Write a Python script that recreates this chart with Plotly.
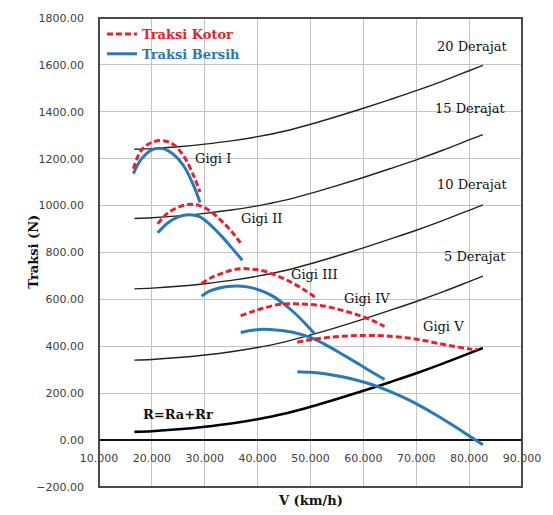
import plotly.graph_objects as go

# Speeds (km/h) and tractive-effort / resistance values (N)
v_lintasan = [16.7, 20, 25, 30, 35, 40, 45, 50, 55, 60, 65, 70, 75, 80, 82.6]
r_total = [35, 38, 46, 57, 71, 89, 112, 142, 175, 210, 247, 285, 326, 370, 393]
tanjakan_5 = [341, 344, 352, 363, 377, 395, 418, 448, 481, 516, 553, 591, 632, 676, 699]
tanjakan_10 = [645, 648, 656, 667, 681, 699, 722, 752, 785, 820, 857, 895, 936, 980, 1003]
tanjakan_15 = [945, 948, 956, 967, 981, 999, 1022, 1052, 1085, 1120, 1157, 1195, 1236, 1280, 1303]
tanjakan_20 = [1240, 1243, 1251, 1262, 1276, 1294, 1317, 1347, 1380, 1415, 1452, 1490, 1531, 1575, 1598]

v_gigi1 = [16.5, 18, 20, 22, 24, 26, 28, 29.1]
kotor_gigi1 = [1157, 1236, 1270, 1277, 1262, 1212, 1122, 1058]
bersih_gigi1 = [1136, 1198, 1238, 1243, 1220, 1170, 1080, 1013]

v_gigi2 = [21.1, 23, 25, 27, 29, 31, 33, 35, 37.1]
kotor_gigi2 = [922, 968, 993, 1005, 1000, 977, 938, 892, 830]
bersih_gigi2 = [884, 926, 952, 961, 953, 919, 874, 823, 767]

v_gigi3 = [29.4, 31, 33, 35, 37, 39, 41, 43, 45, 47, 49, 50.8]
kotor_gigi3 = [668, 690, 709, 724, 731, 729, 722, 707, 688, 665, 638, 610]
bersih_gigi3 = [614, 636, 650, 656, 656, 649, 634, 612, 580, 542, 497, 452]

v_gigi4 = [36.8, 39, 41, 44, 47, 50, 53, 56, 59, 62, 64]
kotor_gigi4 = [530, 548, 562, 578, 581, 578, 570, 553, 533, 507, 485]
bersih_gigi4 = [459, 468, 473, 468, 458, 438, 405, 366, 326, 285, 259]

v_gigi5_kotor = [47.5, 50, 53, 56, 59, 62, 65, 68, 71, 74, 77, 80, 81.5]
kotor_gigi5 = [417, 428, 437, 443, 446, 446, 443, 437, 427, 413, 400, 389, 387]
v_gigi5_bersih = [47.5, 50, 53, 56, 59, 62, 65, 68, 71, 74, 77, 80, 82.6]
bersih_gigi5 = [292, 289, 282, 270, 254, 234, 208, 178, 143, 104, 62, 18, -20]

x_ticks = [10, 20, 30, 40, 50, 60, 70, 80, 90]
x_tick_labels = ["10.000", "20.000", "30.000", "40.000", "50.000",
                 "60.000", "70.000", "80.000", "90.000"]

RED = "#e8202a"
BLUE = "#2a78b8"
SERIF = "DejaVu Serif"

fig = go.Figure()

# Grade-resistance lines
for vals in (tanjakan_5, tanjakan_10, tanjakan_15, tanjakan_20):
    fig.add_trace(go.Scatter(x=v_lintasan, y=vals, mode="lines",
                             line=dict(color="#222222", width=1.4, shape="spline"),
                             showlegend=False, hoverinfo="skip"))

# Total road resistance
fig.add_trace(go.Scatter(x=v_lintasan, y=r_total, mode="lines",
                         line=dict(color="#000000", width=2.6, shape="spline"),
                         showlegend=False, hoverinfo="skip"))

gears_bersih = [(v_gigi1, bersih_gigi1), (v_gigi2, bersih_gigi2), (v_gigi3, bersih_gigi3),
                (v_gigi4, bersih_gigi4), (v_gigi5_bersih, bersih_gigi5)]
gears_kotor = [(v_gigi1, kotor_gigi1), (v_gigi2, kotor_gigi2), (v_gigi3, kotor_gigi3),
               (v_gigi4, kotor_gigi4), (v_gigi5_kotor, kotor_gigi5)]

for i, (vx, vy) in enumerate(gears_bersih):
    fig.add_trace(go.Scatter(x=vx, y=vy, mode="lines",
                             line=dict(color=BLUE, width=3, shape="spline"),
                             name='<b><span style="color:%s">Traksi Bersih</span></b>' % BLUE,
                             legendrank=2, showlegend=(i == 0), hoverinfo="skip"))

for i, (vx, vy) in enumerate(gears_kotor):
    fig.add_trace(go.Scatter(x=vx, y=vy, mode="lines",
                             line=dict(color=RED, width=3, dash="6px,3px", shape="spline"),
                             name='<b><span style="color:%s">Traksi Kotor</span></b>' % RED,
                             legendrank=1, showlegend=(i == 0), hoverinfo="skip"))

# Curve labels
labels = [
    ("20 Derajat", 80.7, 1678, False),
    ("15 Derajat", 80.3, 1412, False),
    ("10 Derajat", 80.7, 1091, False),
    ("5 Derajat", 81.1, 782, False),
    ("Gigi I", 31.5, 1201, False),
    ("Gigi II", 40.8, 947, False),
    ("Gigi III", 50.8, 706, False),
    ("Gigi IV", 60.7, 605, False),
    ("Gigi V", 75.2, 486, False),
    ("R=Ra+Rr", 25.0, 110, True),
]
for text, lx, ly, bold in labels:
    fig.add_annotation(x=lx, y=ly, xref="x", yref="y", showarrow=False,
                       text=("<b>%s</b>" % text) if bold else text,
                       font=dict(family=SERIF, size=13, color="#111111"))

# Axis titles
fig.add_annotation(x=0.501, y=-0.05, xref="paper", yref="paper", showarrow=False,
                   text="<b>V (km/h)</b>", font=dict(family=SERIF, size=13, color="#111111"))
fig.add_annotation(x=-0.179, y=0.501, xref="paper", yref="paper", showarrow=False,
                   textangle=-90, text="<b>Traksi (N)</b>",
                   font=dict(family=SERIF, size=13, color="#111111"))

# Plot frame
fig.add_shape(type="rect", xref="paper", yref="paper", x0=0, y0=0, x1=1, y1=1,
              line=dict(color="#4a4a4a", width=2), layer="above")

fig.update_layout(
    width=553, height=515,
    margin=dict(l=99, r=23, t=14, b=28),
    paper_bgcolor="white", plot_bgcolor="white",
    showlegend=True,
    legend=dict(x=0.007, y=0.998, xanchor="left", yanchor="top",
                bgcolor="rgba(0,0,0,0)", tracegroupgap=0,
                font=dict(family=SERIF, size=13)),
    xaxis=dict(range=[10, 90], tickvals=x_ticks, ticktext=x_tick_labels,
               anchor="free", position=0.1, showline=False, ticks="",
               ticklabelstandoff=10,
               showgrid=True, gridcolor="#c4c4c4", gridwidth=1, zeroline=False,
               tickfont=dict(family="DejaVu Sans", size=11, color="#404040")),
    yaxis=dict(range=[-200, 1800], dtick=200, tickformat=".2f",
               showgrid=True, gridcolor="#c4c4c4", gridwidth=1,
               zeroline=True, zerolinecolor="#111111", zerolinewidth=1.6,
               showline=False, ticks="", ticklabelstandoff=14,
               tickfont=dict(family="DejaVu Sans", size=11, color="#404040")),
)

fig.write_html("out.html")
